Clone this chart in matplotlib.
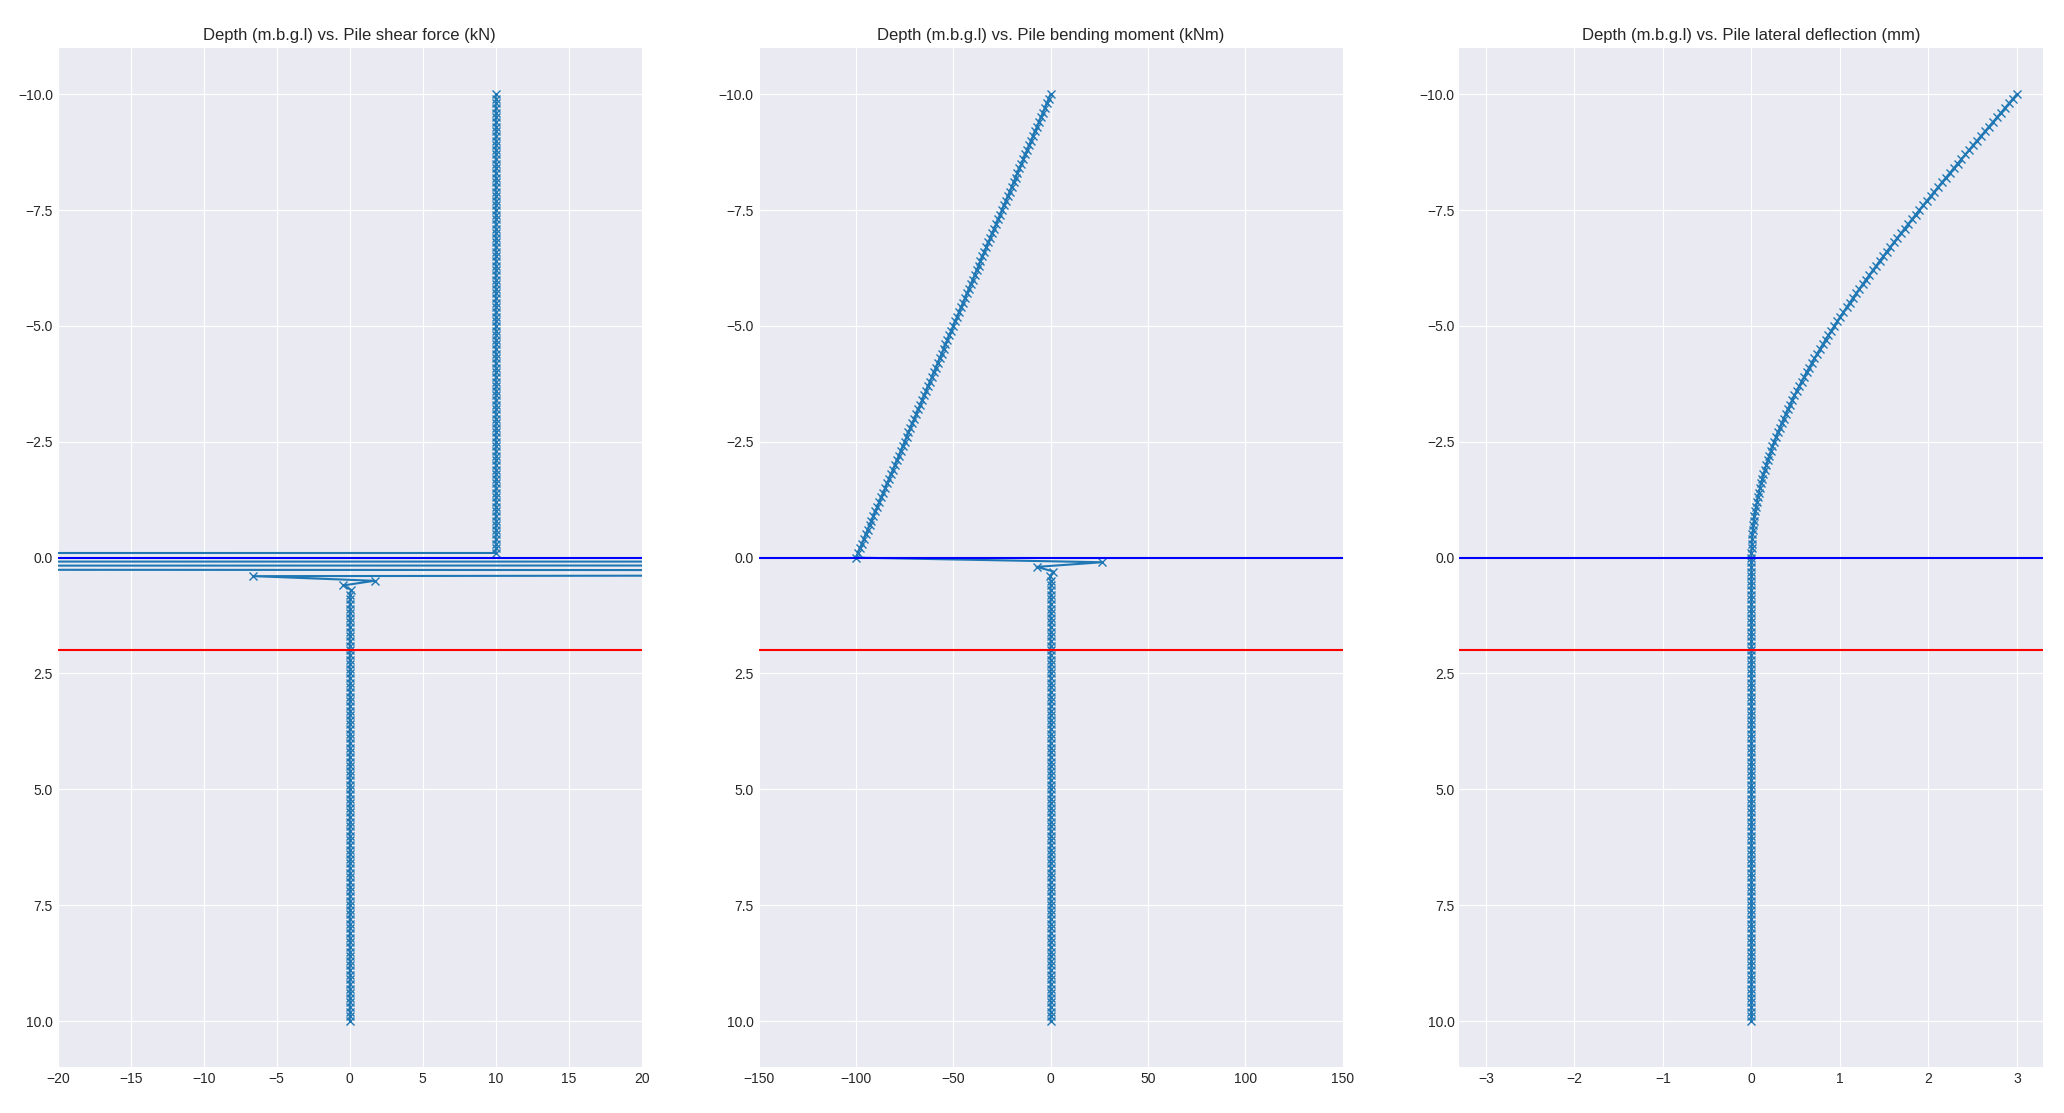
import numpy as np
from matplotlib import pyplot as plt

plt.style.use("seaborn-v0_8-darkgrid")
plt.rcParams['font.family'] = ['Liberation Sans', 'DejaVu Sans']

# nodes along the pile, top of pile at -10 m, toe at +10 m (0.1 m spacing)
depth = np.round(np.linspace(-10, 10, 201), 1)
ground_level = 0.0
water_level = 2.0

# shear force (kN): constant above ground, numerical spikes at ground level
shear = ([10.0] * 100
         + [-7700.0, 1280.0, -500.0, 260.0, -6.6, 1.7, -0.45, 0.1]
         + [0.0] * 93)

# bending moment (kNm)
moment_above = [0, -1, -2, -3, -4, -5, -6, -7, -8, -9,
                -10, -11, -12, -13, -14, -15, -16, -17, -18, -19,
                -20, -21, -22, -23, -24, -25, -26, -27, -28, -29,
                -30, -31, -32, -33, -34, -35, -36, -37, -38, -39,
                -40, -41, -42, -43, -44, -45, -46, -47, -48, -49,
                -50, -51, -52, -53, -54, -55, -56, -57, -58, -59,
                -60, -61, -62, -63, -64, -65, -66, -67, -68, -69,
                -70, -71, -72, -73, -74, -75, -76, -77, -78, -79,
                -80, -81, -82, -83, -84, -85, -86, -87, -88, -89,
                -90, -91, -92, -93, -94, -95, -96, -97, -98, -99,
                -100]
moment = moment_above + [26.5, -7.2, 1.5, -0.3] + [0.0] * 96

# lateral deflection (mm)
deflection_above = [3.000, 2.955, 2.910, 2.865, 2.820, 2.775, 2.730, 2.686, 2.641, 2.596,
                    2.552, 2.507, 2.463, 2.418, 2.374, 2.330, 2.286, 2.242, 2.199, 2.155,
                    2.112, 2.069, 2.026, 1.983, 1.941, 1.898, 1.856, 1.815, 1.773, 1.732,
                    1.691, 1.650, 1.609, 1.569, 1.529, 1.489, 1.450, 1.411, 1.372, 1.334,
                    1.296, 1.258, 1.221, 1.184, 1.148, 1.112, 1.076, 1.041, 1.006, 0.971,
                    0.938, 0.904, 0.871, 0.838, 0.806, 0.775, 0.743, 0.713, 0.683, 0.653,
                    0.624, 0.595, 0.567, 0.540, 0.513, 0.487, 0.461, 0.436, 0.412, 0.388,
                    0.365, 0.342, 0.320, 0.299, 0.278, 0.258, 0.238, 0.220, 0.202, 0.185,
                    0.168, 0.152, 0.137, 0.123, 0.109, 0.096, 0.084, 0.073, 0.062, 0.052,
                    0.044, 0.035, 0.028, 0.022, 0.016, 0.011, 0.007, 0.004, 0.002, 0.000,
                    0.000]
deflection = deflection_above + [0.0] * 100

titles = ["Depth (m.b.g.l) vs. Pile shear force (kN)",
          "Depth (m.b.g.l) vs. Pile bending moment (kNm)",
          "Depth (m.b.g.l) vs. Pile lateral deflection (mm)"]
series = [shear, moment, deflection]
xlims = [(-20, 20), (-150, 150), (-3.3, 3.3)]

fig, axes = plt.subplots(1, 3, figsize=(20.64, 11.13), dpi=100)

for ax, values, title, xlim in zip(axes, series, titles, xlims):
    ax.plot(values, depth, 'x-')
    ax.axhline(ground_level, color='b')
    ax.axhline(water_level, color='r')
    ax.set_xlim(xlim)
    ax.set_ylim(11, -11)
    ax.set_title(title)

fig.subplots_adjust(left=0.028, right=0.99, bottom=0.041, top=0.957, wspace=0.2)
plt.savefig("out.png")
